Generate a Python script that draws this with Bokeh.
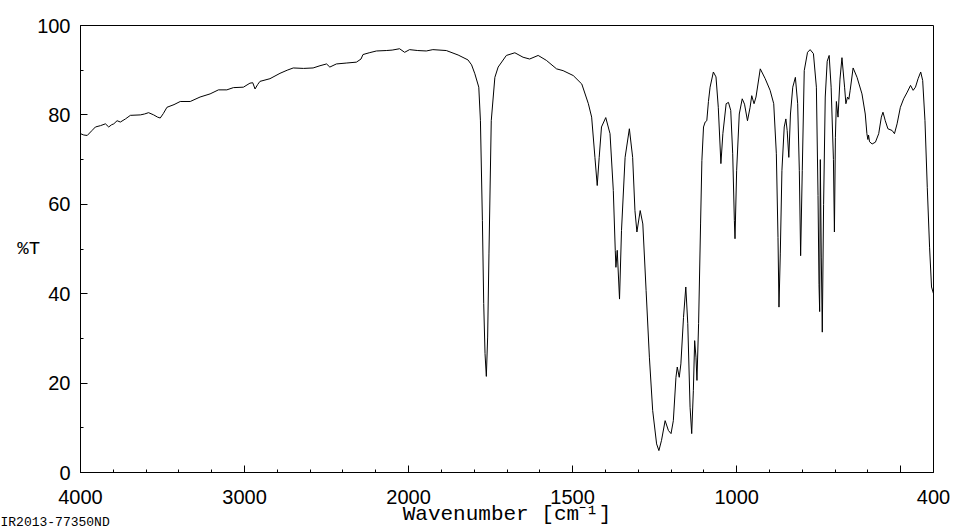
from bokeh.plotting import figure
from bokeh.models import ColumnDataSource, Range1d, FixedTicker, Title
from bokeh.embed import file_html
from bokeh.resources import INLINE

# ---- data (wavenumber in cm-1, transmittance in %T) ----
wavenumber = [
    4000, 3980, 3959, 3930, 3909, 3878, 3848, 3828, 3810, 3797, 3777, 3757, 3726, 3696,
    3635, 3610, 3585, 3554, 3530, 3514, 3495, 3473, 3430, 3392, 3331, 3271, 3210, 3159,
    3108, 3068, 3007, 2967, 2950, 2936, 2920, 2906, 2845, 2784, 2740, 2703, 2640, 2582,
    2540, 2500, 2480, 2440, 2380, 2318, 2290, 2278, 2240, 2196, 2136, 2100, 2055, 2024,
    1997, 1972, 1946, 1926, 1885, 1849, 1819, 1808, 1798, 1786, 1781, 1775, 1771, 1767,
    1763, 1759, 1755, 1748, 1737, 1727, 1702, 1676, 1651, 1631, 1605, 1580, 1549, 1529,
    1498, 1472, 1452, 1442, 1432, 1425, 1419, 1412, 1399, 1386, 1376, 1370, 1368, 1364,
    1357, 1351, 1340, 1327, 1317, 1310, 1304, 1294, 1286, 1276, 1266, 1256, 1244, 1237,
    1229, 1218, 1208, 1200, 1193, 1185, 1181, 1175, 1170, 1162, 1155, 1149, 1142, 1137,
    1132, 1128, 1124, 1121, 1116, 1110, 1106, 1101, 1096, 1091, 1086, 1081, 1071, 1063,
    1056, 1048, 1042, 1032, 1025, 1018, 1012, 1007, 1005, 1000, 992, 983, 976, 967,
    959, 954, 947, 941, 928, 913, 898, 887, 879, 874, 871, 867, 862, 855,
    850, 846, 841, 836, 829, 821, 814, 809, 805, 800, 794, 784, 776, 766,
    757, 752, 749, 747, 745, 742, 739, 735, 730, 724, 718, 712, 705, 702,
    699, 696, 691, 685, 679, 671, 667, 662, 658, 654, 645, 633, 618, 608,
    603, 600, 598, 595, 587, 577, 567, 559, 554, 547, 539, 526, 519, 511,
    501, 491, 480, 470, 462, 455, 447, 439, 433, 426, 419, 412, 406, 400,
]
transmittance = [
    75.8, 75.5, 75.4, 76.5, 77.3, 77.6, 78.0, 77.3, 77.8, 78.0, 78.7, 78.4, 79.1, 79.9,
    80.0, 80.2, 80.5, 80.0, 79.5, 79.3, 80.3, 81.7, 82.3, 83.0, 83.0, 84.0, 84.7, 85.6,
    85.6, 86.1, 86.2, 87.1, 87.2, 85.8, 86.8, 87.5, 88.1, 89.3, 90.0, 90.5, 90.4, 90.5,
    91.0, 91.4, 90.7, 91.4, 91.6, 91.8, 92.5, 93.5, 93.9, 94.3, 94.4, 94.5, 94.8, 94.0,
    94.6, 94.4, 94.3, 94.6, 94.4, 93.4, 92.3, 91.2, 89.2, 86.2, 78.7, 56.4, 37.8, 26.6,
    21.5, 30.3, 48.9, 78.7, 88.4, 90.7, 93.3, 93.9, 92.9, 92.5, 93.3, 92.2, 90.3, 89.9,
    88.8, 86.9, 82.5, 79.5, 70.5, 64.2, 70.5, 77.3, 79.4, 75.8, 63.1, 49.7, 45.9, 49.7,
    38.8, 54.1, 70.5, 76.9, 70.5, 58.6, 53.8, 58.6, 55.6, 40.7, 25.8, 13.9, 6.4, 4.9,
    7.2, 11.6, 9.4, 8.7, 11.6, 21.3, 23.6, 21.3, 24.3, 34.7, 41.5, 33.3, 14.6, 8.7,
    18.3, 29.5, 25.8, 20.6, 33.3, 55.6, 69.8, 77.3, 78.4, 78.7, 83.0, 86.2, 89.6, 88.5,
    81.7, 69.1, 75.8, 82.5, 82.8, 81.0, 71.3, 56.4, 52.3, 67.6, 80.2, 83.6, 82.4, 78.7,
    81.7, 84.3, 82.5, 84.0, 90.3, 88.1, 85.5, 82.5, 71.3, 52.6, 37.0, 48.9, 67.6, 77.3,
    79.1, 76.5, 70.5, 80.2, 86.2, 88.4, 82.5, 67.6, 48.5, 67.6, 89.9, 94.0, 94.6, 93.7,
    86.2, 62.0, 42.0, 36.0, 70.0, 48.0, 31.4, 60.0, 84.0, 92.0, 93.3, 86.2, 70.0, 53.8,
    75.0, 83.0, 79.5, 88.0, 92.8, 86.2, 82.5, 84.0, 83.5, 85.5, 90.5, 88.4, 84.7, 80.2,
    75.8, 74.5, 75.5, 74.0, 73.5, 73.9, 75.8, 79.5, 80.6, 78.7, 76.9, 76.5, 75.8, 78.0,
    81.7, 83.6, 85.1, 86.6, 85.5, 86.2, 88.1, 89.6, 87.7, 78.7, 63.8, 50.4, 41.5, 40.0,
]
x_tick_values = [4000, 3000, 2000, 1500, 1000, 500, 400]
x_tick_labels = ["4000", "3000", "2000", "1500", "1000", "", "400"]
y_tick_values = [0, 20, 40, 60, 80, 100]
y_minor_values = [10, 30, 50, 70, 90]
x_title = "Wavenumber [cm\u207b\u00b9]"
y_title = "%T"
sample_id = "IR2013-77350ND"

# The axis scale is halved above 2000 cm-1 (as in the instrument printout)
def to_axis(w):
    return w if w <= 2000 else 2000 + (w - 2000) / 2.0

source = ColumnDataSource(dict(
    x=[to_axis(w) for w in wavenumber],
    wn=wavenumber,
    t=transmittance,
))

p = figure(width=959, height=528, output_backend="svg", toolbar_location=None,
           x_range=Range1d(to_axis(4000), to_axis(400)), y_range=Range1d(0, 100),
           min_border_left=80, min_border_right=26, min_border_top=25, min_border_bottom=56)
p.background_fill_color = "white"
p.border_fill_color = "white"
p.outline_line_color = "black"
p.outline_line_width = 1
p.grid.visible = False

p.line("x", "t", source=source, line_color="black", line_width=1)

major_x = [to_axis(w) for w in x_tick_values]
minor_x = [v for v in range(400, 3001, 100) if v not in major_x]
p.xaxis.ticker = FixedTicker(ticks=major_x, minor_ticks=minor_x)
p.xaxis.major_label_overrides = {to_axis(w): lab for w, lab in zip(x_tick_values, x_tick_labels)}
p.yaxis.ticker = FixedTicker(ticks=y_tick_values, minor_ticks=y_minor_values)

mono = "Liberation Mono"
for ax in (p.xaxis[0], p.yaxis[0]):
    ax.major_tick_in = 7
    ax.major_tick_out = 0
    ax.minor_tick_in = 3
    ax.minor_tick_out = 0
    ax.axis_line_color = "black"
    ax.major_tick_line_color = "black"
    ax.minor_tick_line_color = "black"
    ax.major_label_text_font = "Liberation Sans"
    ax.major_label_text_font_size = "20px"
    ax.major_label_text_color = "black"
    ax.axis_label_text_font = mono
    ax.axis_label_text_font_style = "normal"
    ax.axis_label_text_color = "black"

p.xaxis.major_label_standoff = 17
p.yaxis.major_label_standoff = 10

p.xaxis.axis_label = x_title
p.xaxis.axis_label_text_font_size = "21px"
p.xaxis.axis_label_standoff = -4

p.yaxis.axis_label = y_title
p.yaxis.axis_label_orientation = "horizontal"
p.yaxis.axis_label_text_font_size = "19px"
p.yaxis.axis_label_standoff = -6

t = Title(text=sample_id, align="left", vertical_align="top", offset=-80, standoff=-28,
          text_font=mono, text_font_size="13px", text_font_style="normal",
          text_color="black")
p.add_layout(t, "below")

open("out.html", "w").write(file_html(p, INLINE))
